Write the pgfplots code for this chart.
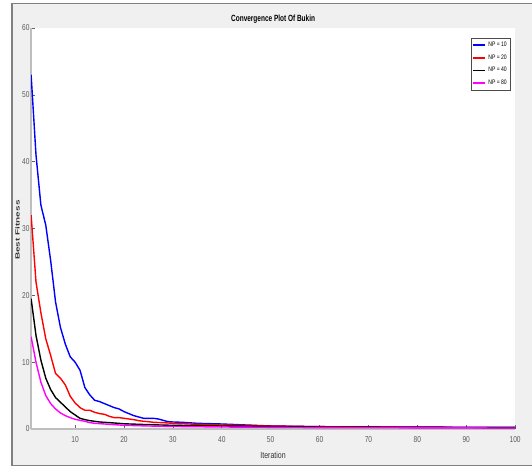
\documentclass[border=0pt]{standalone}
\usepackage{pgfplots}
\pgfplotsset{compat=1.18}
\usepackage{graphicx}
\usepackage{fontspec}
\setmainfont{Liberation Sans}
\newfontfamily\cf[FakeStretch=0.78]{Liberation Sans}
\newfontfamily\tf[FakeStretch=0.72]{Liberation Sans}
\definecolor{figbg}{RGB}{240,240,240}
\definecolor{framec}{RGB}{128,128,128}
\definecolor{axlinec}{RGB}{190,190,190}
\definecolor{tickc}{RGB}{100,100,100}
\definecolor{labc}{RGB}{90,90,90}
\definecolor{cblue}{RGB}{0,0,255}
\definecolor{cred}{RGB}{255,0,0}
\definecolor{cblack}{RGB}{0,0,0}
\definecolor{cmag}{RGB}{255,0,255}
\begin{document}
\begin{tikzpicture}[x=1pt,y=1pt]
\useasboundingbox (0,0) rectangle (532,468);
\fill[white] (0,0) rectangle (532,468);
\fill[figbg] (12,2.5) rectangle (532,464.5);
\draw[framec, line width=1.5pt] (532,464.5) -- (12,464.5) -- (12,2.5) -- (532,2.5);
\begin{axis}[
  at={(31.11pt,39pt)}, anchor=origin,
  scale only axis, width=484pt, height=401pt,
  xmin=1, xmax=100, ymin=0, ymax=60,
  xtick={10,20,...,100}, ytick={0,10,...,60},
  axis background/.style={fill=white},
  axis x line*=bottom, axis y line*=left,
  axis line style={axlinec, line width=1.3pt, -},
  tick style={tickc, line width=0.6pt},
  major tick length=4pt, tick align=inside,
  /pgf/number format/assume math mode=true,
  ticklabel style={font=\cf\fontsize{8.5}{9}\selectfont, text=labc},
  xticklabel style={yshift=-4pt},
  yticklabel style={xshift=2pt},
  xlabel={Iteration},
  xlabel style={at={(axis description cs:0.5,-0.065)}, anchor=center, font=\cf\fontsize{9}{9}\selectfont, text=black!80},
  ylabel={\scalebox{1}[0.6]{\bfseries\fontsize{10}{10}\selectfont Best Fitness}},
  ylabel style={at={(axis description cs:-0.028,0.496)}, anchor=center, rotate=0, text=black!80},
  every axis title shift=0pt,
  title={Convergence Plot Of Bukin},
  title style={at={(axis description cs:0.5,1.021)}, anchor=center, font=\tf\bfseries\fontsize{9}{9}\selectfont},
  legend style={at={(rel axis cs:0.9897,0.975)}, anchor=north east, draw=black!70, line width=0.6pt,
    fill=white, font=\cf\fontsize{6.5}{7}\selectfont, inner xsep=1pt, inner ysep=2pt, row sep=2.5pt,
    /tikz/every even column/.append style={column sep=0pt}},
  legend cell align=left,
  legend image code/.code={\draw[#1, line width=1.8pt] (0pt,0pt) -- (12pt,0pt);},
  every axis plot/.append style={line width=1.4pt},
]
\addplot[cblue] coordinates {
(1,53.0) (2,41.0) (3,33.5) (4,30.5) (5,25.2) (6,19.0) (7,15.2) (8,12.7) (9,10.8) (10,10.0)
(11,8.8) (12,6.2) (13,5.1) (14,4.3) (15,4.1) (16,3.8) (17,3.5) (18,3.2) (19,3.0) (20,2.6)
(21,2.3) (22,2.0) (23,1.8) (24,1.6) (25,1.6) (26,1.6) (27,1.5) (28,1.3) (29,1.1) (30,1.05)
(32,1.0) (35,0.85) (40,0.75) (45,0.6) (50,0.45) (55,0.4) (60,0.35) (70,0.3) (80,0.28) (90,0.26) (100,0.25)};
\addlegendentry{NP = 10}
\addplot[cred] coordinates {
(1,32.0) (2,22.0) (3,17.4) (4,13.5) (5,11.0) (6,8.3) (7,7.6) (8,6.6) (9,4.9) (10,3.9)
(11,3.2) (12,2.8) (13,2.8) (14,2.5) (15,2.3) (16,2.2) (17,1.9) (18,1.7) (19,1.7) (20,1.6)
(21,1.5) (22,1.4) (23,1.25) (24,1.15) (25,1.1) (26,1.0) (28,0.95) (30,0.85) (35,0.7) (40,0.6)
(50,0.45) (60,0.35) (70,0.3) (80,0.25) (90,0.22) (100,0.2)};
\addlegendentry{NP = 20}
\addplot[cblack] coordinates {
(1,19.5) (2,14.0) (3,10.3) (4,7.6) (5,5.9) (6,4.7) (7,4.0) (8,3.3) (9,2.6) (10,2.1)
(11,1.6) (12,1.4) (13,1.25) (14,1.15) (15,1.05) (16,1.0) (18,0.9) (20,0.78) (25,0.65) (30,0.55)
(40,0.45) (50,0.38) (60,0.3) (80,0.25) (100,0.2)};
\addlegendentry{NP = 40}
\addplot[cmag] coordinates {
(1,13.8) (2,10.0) (3,7.0) (4,5.0) (5,3.8) (6,3.0) (7,2.4) (8,2.0) (9,1.7) (10,1.45)
(11,1.3) (12,1.15) (13,0.95) (14,0.85) (16,0.75) (20,0.55) (25,0.45) (30,0.38) (40,0.3)
(50,0.25) (60,0.2) (100,0.15)};
\addlegendentry{NP = 80}
\end{axis}
\end{tikzpicture}
\end{document}
